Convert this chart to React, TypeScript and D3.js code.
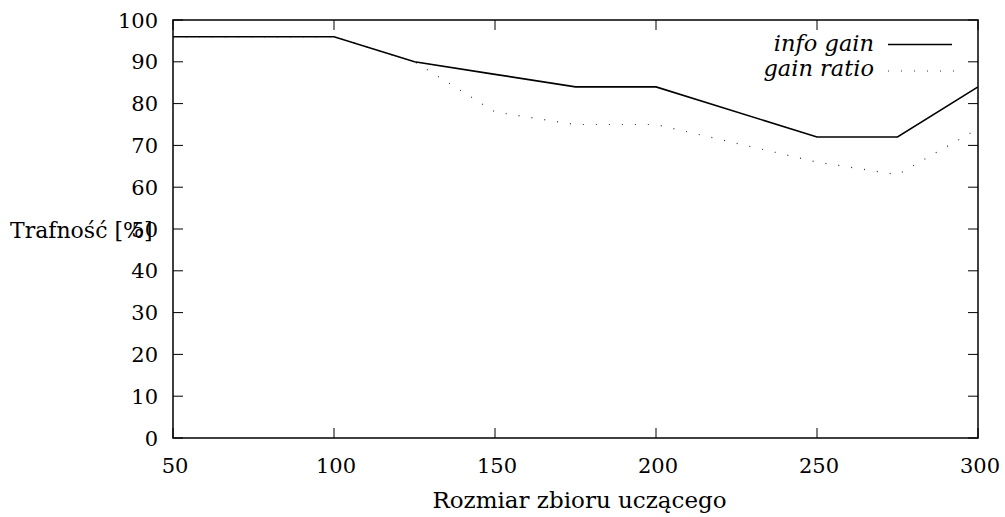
import React from "react";
import * as d3 from "d3";

const sizes = [50, 100, 125, 150, 175, 200, 250, 275, 300];
const infoGain = [96, 96, 90, 87, 84, 84, 72, 72, 84];
const gainRatio = [96, 96, 90, 78, 75, 75, 66, 63, 74];
const xTicks = [50, 100, 150, 200, 250, 300];
const yTicks = [0, 10, 20, 30, 40, 50, 60, 70, 80, 90, 100];

const W = 1005;
const H = 517;
const M = { left: 173, right: 27, top: 20, bottom: 79 };
const FONT = "DejaVu Serif";

export default function App() {
  const x = d3.scaleLinear().domain([50, 300]).range([M.left, W - M.right]);
  const y = d3.scaleLinear().domain([0, 100]).range([H - M.bottom, M.top]);

  const line = d3
    .line<number>()
    .x((_, i) => x(sizes[i]))
    .y((d) => y(d));

  const x0 = M.left;
  const x1 = W - M.right;
  const y0 = H - M.bottom;
  const y1 = M.top;
  const tick = 10;

  return (
    <svg width={W} height={H} style={{ position: "absolute", left: 0, top: 0 }} fontFamily={FONT}>
      <rect width={W} height={H} fill="#fff" />
      <path d={line(gainRatio) || ""} fill="none" stroke="#333" strokeWidth={1.2} strokeDasharray="1 12" />
      <path d={line(infoGain) || ""} fill="none" stroke="#000" strokeWidth={1.6} />

      {yTicks.map((t) => (
        <g key={"y" + t}>
          <line x1={x0} x2={x0 + tick} y1={y(t)} y2={y(t)} stroke="#000" strokeWidth={1} />
          <line x1={x1} x2={x1 - tick} y1={y(t)} y2={y(t)} stroke="#000" strokeWidth={1} />
          <text x={x0 - 15} y={y(t) + 7.5} textAnchor="end" fontSize={21}>
            {t}
          </text>
        </g>
      ))}
      {xTicks.map((t) => (
        <g key={"x" + t}>
          <line x1={x(t)} x2={x(t)} y1={y0} y2={y0 - tick} stroke="#000" strokeWidth={1} />
          <line x1={x(t)} x2={x(t)} y1={y1} y2={y1 + tick} stroke="#000" strokeWidth={1} />
          <text x={x(t) + 2} y={y0 + 35} textAnchor="middle" fontSize={21}>
            {t}
          </text>
        </g>
      ))}

      <rect x={x0} y={y1} width={x1 - x0} height={y0 - y1} fill="none" stroke="#000" strokeWidth={1.5} />

      {/* the reference label runs into the "50" tick label; kept that way */}
      <text x={10} y={238} fontSize={22}>
        Trafność [%]
      </text>
      <text x={(x0 + x1) / 2 + 4} y={508} textAnchor="middle" fontSize={23}>
        Rozmiar zbioru uczącego
      </text>

      <text x={874} y={51} textAnchor="end" fontSize={22.5} fontStyle="italic">
        info gain
      </text>
      <line x1={888} x2={952} y1={44.5} y2={44.5} stroke="#000" strokeWidth={1.3} />
      <text x={874} y={76} textAnchor="end" fontSize={22.5} fontStyle="italic">
        gain ratio
      </text>
      <line x1={888} x2={955} y1={71} y2={71} stroke="#333" strokeWidth={1.2} strokeDasharray="1 12" />
    </svg>
  );
}
